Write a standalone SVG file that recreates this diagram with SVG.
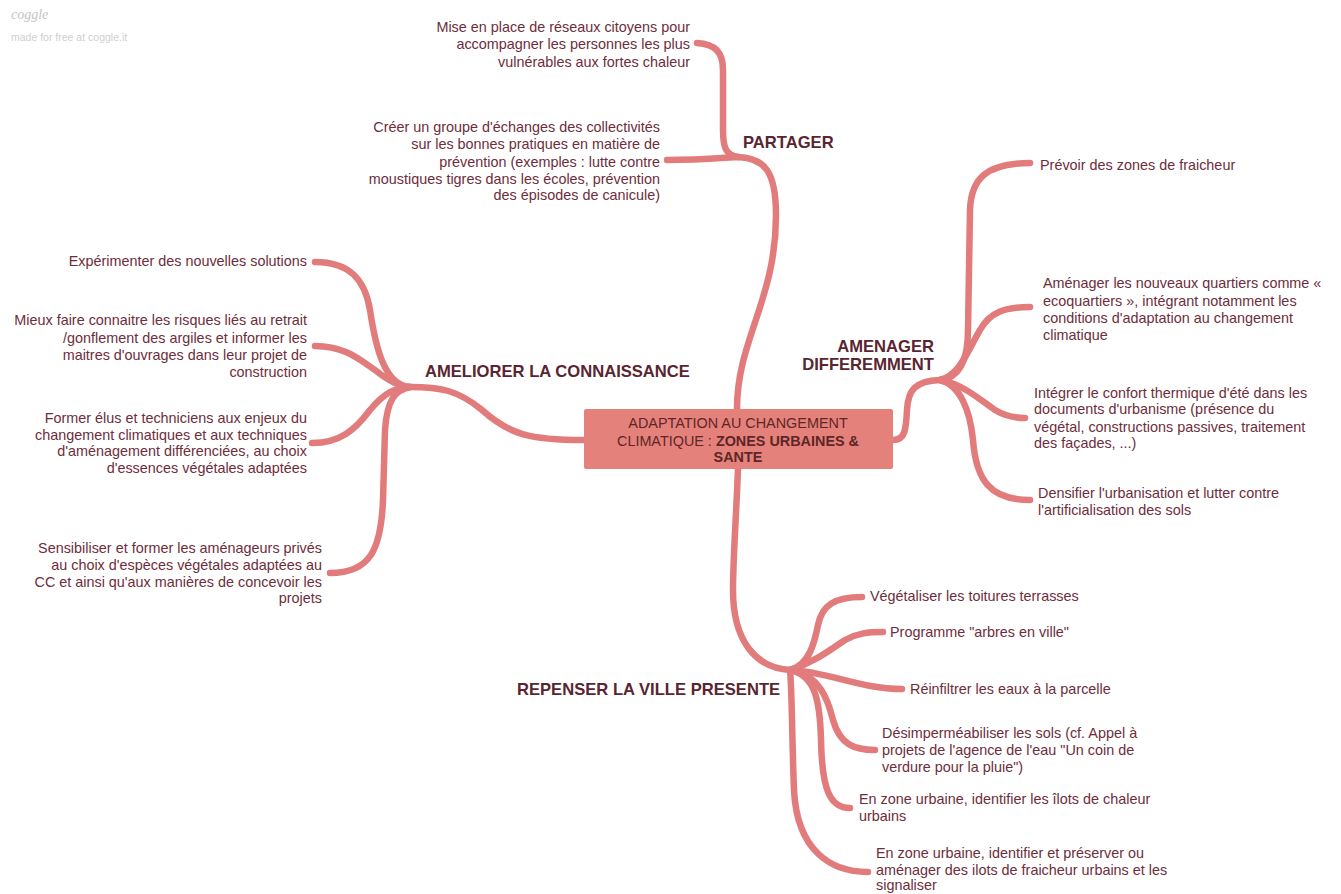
<svg xmlns="http://www.w3.org/2000/svg" width="1341" height="894" viewBox="0 0 1341 894">
<style>
.c{fill:none;stroke:#e27b7b;stroke-width:6.5;stroke-linecap:round;stroke-linejoin:round}
.t{font-family:"Liberation Sans",Arial,sans-serif;font-size:14.4px;fill:#6e2d3a}
.r{text-anchor:end}
.h{font-family:"Liberation Sans",Arial,sans-serif;font-size:16.6px;font-weight:bold;fill:#5a2530}
.ct{font-family:"Liberation Sans",Arial,sans-serif;font-size:14.4px;fill:#5e2626;text-anchor:middle}
.b{font-weight:bold}
</style>
<rect width="1341" height="894" fill="#ffffff"/>
<g id="logo">
<text x="11" y="19" font-family="'Liberation Serif',serif" font-style="italic" font-size="14" fill="#c4c4c4">coggle</text>
<text x="11" y="41" font-family="'Liberation Sans',sans-serif" font-size="10.5" fill="#cfcfcf">made for free at coggle.it</text>
</g>
<g id="connectors">
<path class="c" d="M737,409 C737,340 776,300 776,215 C776,172 765,158 738,157"/>
<path class="c" d="M738,157 C726,155 723,148 723,130 L723,70 C723,52 715,44 697,43"/>
<path class="c" d="M738,157 C720,158 700,160 667,160"/>
<path class="c" d="M584,440 C530,440 510,435 482,410 C458,390 440,387 410,387"/>
<path class="c" d="M315,262 C350,262 365,280 370,310 C376,350 385,385 410,387"/>
<path class="c" d="M315,346 C345,346 360,360 375,370 C390,382 400,387 410,387"/>
<path class="c" d="M312,443 C340,443 355,430 370,410 C385,392 395,388 410,387"/>
<path class="c" d="M330,573 C370,573 381,550 383,500 L385,430 C387,400 395,390 410,387"/>
<path class="c" d="M893,440 C905,440 906,430 907,410 C908,390 915,381 940,380"/>
<path class="c" d="M940,380 C960,378 968,360 968,330 L970,210 C971,180 985,163 1030,163"/>
<path class="c" d="M940,380 C960,375 968,350 980,330 C990,312 1005,307 1030,307"/>
<path class="c" d="M940,380 C965,385 980,400 995,410 C1005,416 1015,418 1025,418"/>
<path class="c" d="M940,380 C960,385 970,410 973,440 C976,480 990,500 1030,500"/>
<path class="c" d="M738,469 C736,520 733,560 733,590 C733,640 755,668 790,670"/>
<path class="c" d="M790,670 C810,665 815,640 818,625 C822,605 835,597 862,597"/>
<path class="c" d="M790,670 C815,662 830,650 845,640 C858,633 868,632 883,632"/>
<path class="c" d="M790,670 C830,672 860,689 902,689"/>
<path class="c" d="M790,670 C820,675 828,700 833,720 C840,745 855,750 875,750"/>
<path class="c" d="M790,670 C815,675 820,700 821,740 C822,790 830,808 850,808"/>
<path class="c" d="M790,670 C792,690 792,740 794,790 C797,850 830,872 868,872"/>
</g>
<g id="center">
<rect x="584" y="409" width="309" height="60" rx="2" fill="#e5817b"/>
<text class="ct" x="738" y="428">ADAPTATION AU CHANGEMENT</text>
<text class="ct" x="738" y="446">CLIMATIQUE : <tspan class="b">ZONES URBAINES &amp;</tspan></text>
<text class="ct b" x="738" y="462">SANTE</text>
</g>
<g id="partager"><text class="h" x="743" y="148">PARTAGER</text></g>
<g id="p1"><text class="t r"><tspan x="690" y="32">Mise en place de réseaux citoyens pour</tspan><tspan x="690" y="49">accompagner les personnes les plus</tspan><tspan x="690" y="67">vulnérables aux fortes chaleur</tspan></text></g>
<g id="p2"><text class="t r"><tspan x="660" y="132">Créer un groupe d'échanges des collectivités</tspan><tspan x="660" y="149">sur les bonnes pratiques en matière de</tspan><tspan x="660" y="167">prévention (exemples : lutte contre</tspan><tspan x="660" y="184">moustiques tigres dans les écoles, prévention</tspan><tspan x="660" y="200">des épisodes de canicule)</tspan></text></g>
<g id="ameliorer"><text class="h" x="425" y="377">AMELIORER LA CONNAISSANCE</text></g>
<g id="a1"><text class="t r" x="307" y="266">Expérimenter des nouvelles solutions</text></g>
<g id="a2"><text class="t r"><tspan x="307" y="325">Mieux faire connaitre les risques liés au retrait</tspan><tspan x="307" y="343">/gonflement des argiles et informer les</tspan><tspan x="307" y="360">maitres d'ouvrages dans leur projet de</tspan><tspan x="307" y="377">construction</tspan></text></g>
<g id="a3"><text class="t r"><tspan x="307" y="423">Former élus et techniciens aux enjeux du</tspan><tspan x="307" y="440">changement climatiques et aux techniques</tspan><tspan x="307" y="456">d'aménagement différenciées, au choix</tspan><tspan x="307" y="473">d'essences végétales adaptées</tspan></text></g>
<g id="a4"><text class="t r"><tspan x="322" y="553">Sensibiliser et former les aménageurs privés</tspan><tspan x="322" y="570">au choix d'espèces végétales adaptées au</tspan><tspan x="322" y="587">CC et ainsi qu'aux manières de concevoir les</tspan><tspan x="322" y="603">projets</tspan></text></g>
<g id="amenager"><text class="h r"><tspan x="934" y="352">AMENAGER</tspan><tspan x="934" y="370">DIFFEREMMENT</tspan></text></g>
<g id="m1"><text class="t" x="1040" y="170">Prévoir des zones de fraicheur</text></g>
<g id="m2"><text class="t"><tspan x="1043" y="288">Aménager les nouveaux quartiers comme «</tspan><tspan x="1043" y="306">ecoquartiers », intégrant notamment les</tspan><tspan x="1043" y="323">conditions d'adaptation au changement</tspan><tspan x="1043" y="340">climatique</tspan></text></g>
<g id="m3"><text class="t"><tspan x="1034" y="398">Intégrer le confort thermique d'été dans les</tspan><tspan x="1034" y="414">documents d'urbanisme (présence du</tspan><tspan x="1034" y="432">végétal, constructions passives, traitement</tspan><tspan x="1034" y="448">des façades, ...)</tspan></text></g>
<g id="m4"><text class="t"><tspan x="1038" y="498">Densifier l'urbanisation et lutter contre</tspan><tspan x="1038" y="515">l'artificialisation des sols</tspan></text></g>
<g id="repenser"><text class="h" x="517" y="695">REPENSER LA VILLE PRESENTE</text></g>
<g id="r1"><text class="t" x="870" y="601">Végétaliser les toitures terrasses</text></g>
<g id="r2"><text class="t" x="890" y="637">Programme "arbres en ville"</text></g>
<g id="r3"><text class="t" x="910" y="694">Réinfiltrer les eaux à la parcelle</text></g>
<g id="r4"><text class="t"><tspan x="882" y="738">Désimperméabiliser les sols (cf. Appel à</tspan><tspan x="882" y="755">projets de l'agence de l'eau "Un coin de</tspan><tspan x="882" y="772">verdure pour la pluie")</tspan></text></g>
<g id="r5"><text class="t"><tspan x="859" y="804">En zone urbaine, identifier les îlots de chaleur</tspan><tspan x="859" y="821">urbains</tspan></text></g>
<g id="r6"><text class="t"><tspan x="876" y="858">En zone urbaine, identifier et préserver ou</tspan><tspan x="876" y="875">aménager des ilots de fraicheur urbains et les</tspan><tspan x="876" y="890">signaliser</tspan></text></g>
</svg>
